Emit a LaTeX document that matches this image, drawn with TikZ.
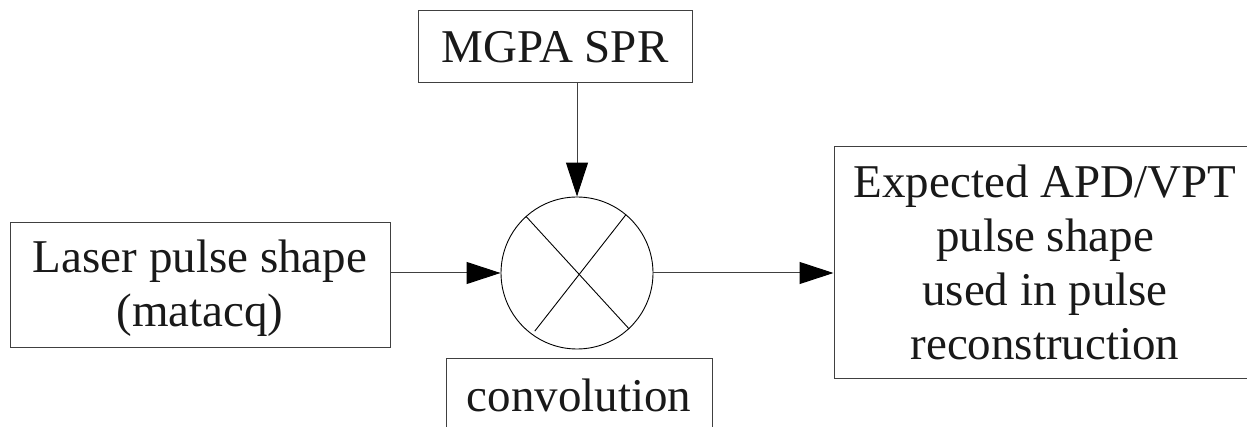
\documentclass[tikz,border=0pt]{standalone}
\usepackage{fontspec}
\setmainfont{Liberation Serif}
\usetikzlibrary{arrows.meta,calc}
\begin{document}
\begin{tikzpicture}[x=1pt,y=-1pt,
  lbl/.style={inner sep=0pt,align=center,font=\fontsize{47}{54}\selectfont,text=black!90},
  box/.style={lbl,draw=black!75,line width=1pt,rectangle},
  conn/.style={draw=black!75,line width=1pt,-{Triangle[length=34pt,width=22pt,color=black]}}]
\clip (0,0) rectangle (1247,427);
\useasboundingbox (0,0) rectangle (1247,427);
\node[box,minimum width=380pt,minimum height=125pt] (laser) at (200,285.5) {};
\node[lbl] (lasertext) at (200,288) {Laser pulse shape\\(matacq)};
\node[box,minimum width=274pt,minimum height=72pt] (mgpa) at (555,47) {MGPA SPR};
\node[draw=black,line width=0.9pt,circle,minimum size=152pt,inner sep=0pt] (circ) at (577,273) {};
\draw[line width=0.9pt] (circ.132) -- (circ.-47);
\draw[line width=0.9pt] (circ.50) -- ($(circ.center)!0.94!(circ.-126)$);
\node[box,minimum width=266pt,minimum height=100pt,anchor=north west] (conv) at (446,358) {};
\node[lbl] (convtext) at (579,395) {convolution};
\node[box,minimum width=422pt,minimum height=231pt] (exp) at (1045,262.5) {Expected APD/VPT\\pulse shape\\used in pulse\\reconstruction};
\draw[conn] (mgpa.south -| circ.north) -- (circ.north);
\draw[conn] (laser.east |- circ.west) -- (circ.west);
\draw[conn] (circ.east) -- (circ.east -| exp.west);
\end{tikzpicture}
\end{document}
